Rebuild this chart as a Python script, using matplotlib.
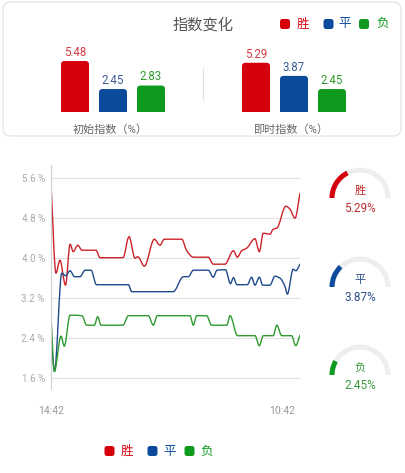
import matplotlib
matplotlib.use('Agg')
import matplotlib.pyplot as plt
from matplotlib.patches import FancyBboxPatch, Wedge, PathPatch
from matplotlib.path import Path
import numpy as np

plt.rcParams['font.family'] = ['Roboto', 'Noto Sans CJK SC', 'DejaVu Sans']

# ---------------- data ----------------
title = '指数变化'
series_names = ['胜', '平', '负']
initial_index = [5.48, 2.45, 2.83]
current_index = [5.29, 3.87, 2.45]
bar_titles = ['初始指数（%）', '即时指数（%）']
y_ticks = [1.6, 2.4, 3.2, 4.0, 4.8, 5.6]
x_labels = ['14:42', '10:42']
gauge_max = 15

# minutes since 14:42
win_t = [0, 24, 43, 70, 92, 107, 129, 149, 217, 236, 347, 376, 405, 418, 450, 498, 525, 546,
         630, 654, 686, 758, 782, 838, 879, 898, 919, 943, 983, 1004, 1023, 1055, 1071, 1088,
         1132, 1152, 1176, 1200]
win_v = [5.48, 3.69, 3.95, 3.45, 4.27, 4.12, 4.25, 4.15, 4.15, 4.00, 4.00, 4.42, 3.99, 4.02,
         3.83, 4.37, 4.25, 4.37, 4.37, 4.14, 4.01, 4.01, 3.87, 3.87, 4.14, 4.01, 4.14, 4.19,
         4.38, 4.12, 4.49, 4.47, 4.57, 4.59, 5.03, 4.97, 4.79, 5.29]

draw_t = [0, 17, 52, 70, 92, 113, 140, 164, 193, 219, 373, 389, 589, 638, 662, 686, 758, 782,
          800, 841, 865, 879, 896, 946, 967, 983, 1004, 1020, 1055, 1079, 1104, 1128, 1139,
          1167, 1180, 1200]
draw_v = [2.45, 1.74, 3.69, 3.64, 3.74, 3.62, 3.62, 3.75, 3.75, 3.46, 3.46, 3.32, 3.32, 3.62,
          3.62, 3.75, 3.75, 3.61, 3.75, 3.76, 3.48, 3.60, 3.46, 3.46, 3.61, 3.45, 3.61, 3.45,
          3.45, 3.63, 3.59, 3.42, 3.27, 3.77, 3.74, 3.87]

loss_t = [0, 16, 48, 64, 92, 149, 172, 209, 225, 241, 347, 373, 469, 493, 512, 670, 686, 702,
          750, 774, 847, 863, 899, 983, 1004, 1023, 1071, 1088, 1112, 1160, 1179, 1200]
loss_v = [2.83, 1.72, 2.43, 2.23, 2.85, 2.84, 2.65, 2.65, 2.82, 2.65, 2.65, 2.84, 2.84, 2.65,
          2.84, 2.84, 2.65, 2.84, 2.84, 2.65, 2.65, 2.84, 2.44, 2.44, 2.24, 2.44, 2.44, 2.65,
          2.44, 2.44, 2.24, 2.45]

# ---------------- style ----------------
bar_colors = ['#d6000c', '#0c4a9b', '#0e9a1c']
line_colors = ['#cc2229', '#1f4a8c', '#2e9a30']
label_colors = ['#d23a40', '#3a5c94', '#2e9a2e']

W, H = 405, 473
fig = plt.figure(figsize=(W / 100, H / 100), dpi=100, facecolor='white')


def px_axes(x0, y0, x1, y1, **kw):
    return fig.add_axes([x0 / W, 1 - y1 / H, (x1 - x0) / W, (y1 - y0) / H], **kw)


# overlay in pixel coordinates
ov = fig.add_axes([0, 0, 1, 1], zorder=0)
ov.set_xlim(0, W)
ov.set_ylim(H, 0)
ov.axis('off')

# card
ov.add_patch(FancyBboxPatch((3, 2), 398, 134, boxstyle='round,pad=0,rounding_size=8',
                            ec='#e4e4e4', fc='white', lw=0.9))
ov.text(203, 25, title, ha='center', va='center', fontsize=11, color='#555555')


def legend(xs, y):
    for i, name in enumerate(series_names):
        sx, tx = xs[i]
        ov.add_patch(FancyBboxPatch((sx - 5, y - 5), 10, 10,
                                    boxstyle='round,pad=0,rounding_size=2.5',
                                    fc=bar_colors[i], ec='none'))
        ov.text(tx, y, name, ha='center', va='center', fontsize=9, color=bar_colors[i])


legend([(285, 302.5), (328.5, 345), (364, 382.5)], 24)
legend([(109.5, 127), (152.5, 170), (189.5, 206.5)], 451)

# divider
ov.plot([203, 203], [68, 100], color='#e2e2e2', lw=0.8)

# bars
px_x = 1 / 38.0
px_y = 1 / 9.25
for gi, (vals, x0, cx) in enumerate([(initial_index, 56, 110), (current_index, 237, 291)]):
    ax = px_axes(x0, 40, x0 + 114, 111.7, zorder=1)
    ax.patch.set_alpha(0)
    ax.set_xlim(-0.5, 2.5)
    ax.set_ylim(0, (111.7 - 40) * px_y)
    ax.axis('off')
    xs = np.arange(3)
    bars = ax.bar(xs, vals, width=0.737, color=bar_colors)
    for b, col in zip(bars, bar_colors):
        b.set_visible(False)
        ax.add_patch(FancyBboxPatch((b.get_x(), -1), b.get_width(), b.get_height() + 1,
                                    boxstyle=f'round,pad=0,rounding_size={3.5 * px_x}',
                                    mutation_aspect=px_y / px_x, fc=col, ec='none'))
    for i, v in enumerate(vals):
        ax.annotate(f'{v:.2f}', (xs[i], v), xytext=(0, 6.2), textcoords='offset points',
                    ha='center', va='center', fontsize=8.3, color=label_colors[i])
    ov.text(cx, 130, bar_titles[gi], ha='center', va='center', fontsize=8, color='#666666')

# line chart
lx = px_axes(51, 165, 300, 389, zorder=1)
lx.patch.set_alpha(0)
lx.set_xlim(0, 1200)
ylo = 1.6 - (389 - 377.7) / 50
yhi = 5.6 + (177.7 - 165) / 50
lx.set_ylim(ylo, yhi)
for s in ['top', 'right', 'bottom']:
    lx.spines[s].set_visible(False)
lx.spines['left'].set_color('#d0d0d0')
lx.spines['left'].set_linewidth(0.8)
lx.set_yticks(y_ticks)
lx.set_yticklabels([f'{v:.1f} %' for v in y_ticks])
lx.tick_params(axis='y', length=0, pad=4.5, labelsize=7, labelcolor='#aaaaaa')
lx.set_xticks([])
for v in y_ticks:
    lx.axhline(v, color='#e2e2e2', lw=0.8, zorder=0)


def smooth_path(t, v):
    x = np.asarray(t, float)
    y = np.asarray(v, float)
    h = np.diff(x)
    d = np.diff(y) / h
    n = len(x)
    m = np.zeros(n)
    m[0] = d[0]
    m[-1] = d[-1]
    for k in range(1, n - 1):
        if d[k - 1] * d[k] <= 0:
            m[k] = 0
        else:
            w1 = 2 * h[k] + h[k - 1]
            w2 = h[k] + 2 * h[k - 1]
            m[k] = (w1 + w2) / (w1 / d[k - 1] + w2 / d[k])
    verts = [(x[0], y[0])]
    codes = [Path.MOVETO]
    for k in range(n - 1):
        hk = h[k]
        verts += [(x[k] + hk / 3, y[k] + m[k] * hk / 3),
                  (x[k + 1] - hk / 3, y[k + 1] - m[k + 1] * hk / 3),
                  (x[k + 1], y[k + 1])]
        codes += [Path.CURVE4] * 3
    return Path(verts, codes)


for (t, v), c in zip([(win_t, win_v), (draw_t, draw_v), (loss_t, loss_v)], line_colors):
    lx.add_patch(PathPatch(smooth_path(t, v), fill=False, ec=c, lw=1.0, capstyle='round',
                           joinstyle='round'))

ov.text(51, 411, x_labels[0], ha='center', va='center', fontsize=7.5, color='#999999')
ov.text(282, 411, x_labels[1], ha='center', va='center', fontsize=7.5, color='#999999')

# gauges
gauge_text_colors = ['#bf2a30', '#2c4f86', '#3a9a3a']
for i, cy in enumerate([198, 287, 375]):
    cx = 360
    ov.add_patch(Wedge((cx, cy), 30.5, 180, 360, width=5, fc='#eeeeee', ec='none'))
    ov.add_patch(Wedge((cx, cy), 30.5, 180, 180 + 180 * current_index[i] / gauge_max,
                       width=5, fc=bar_colors[i], ec='none'))
    ov.text(cx, cy - 7, series_names[i], ha='center', va='center', fontsize=8,
            color=gauge_text_colors[i])
    ov.text(cx, cy + 10, f'{current_index[i]:.2f}%', ha='center', va='center', fontsize=8.5,
            color=gauge_text_colors[i])

fig.savefig('out.png', dpi=100, facecolor='white')
